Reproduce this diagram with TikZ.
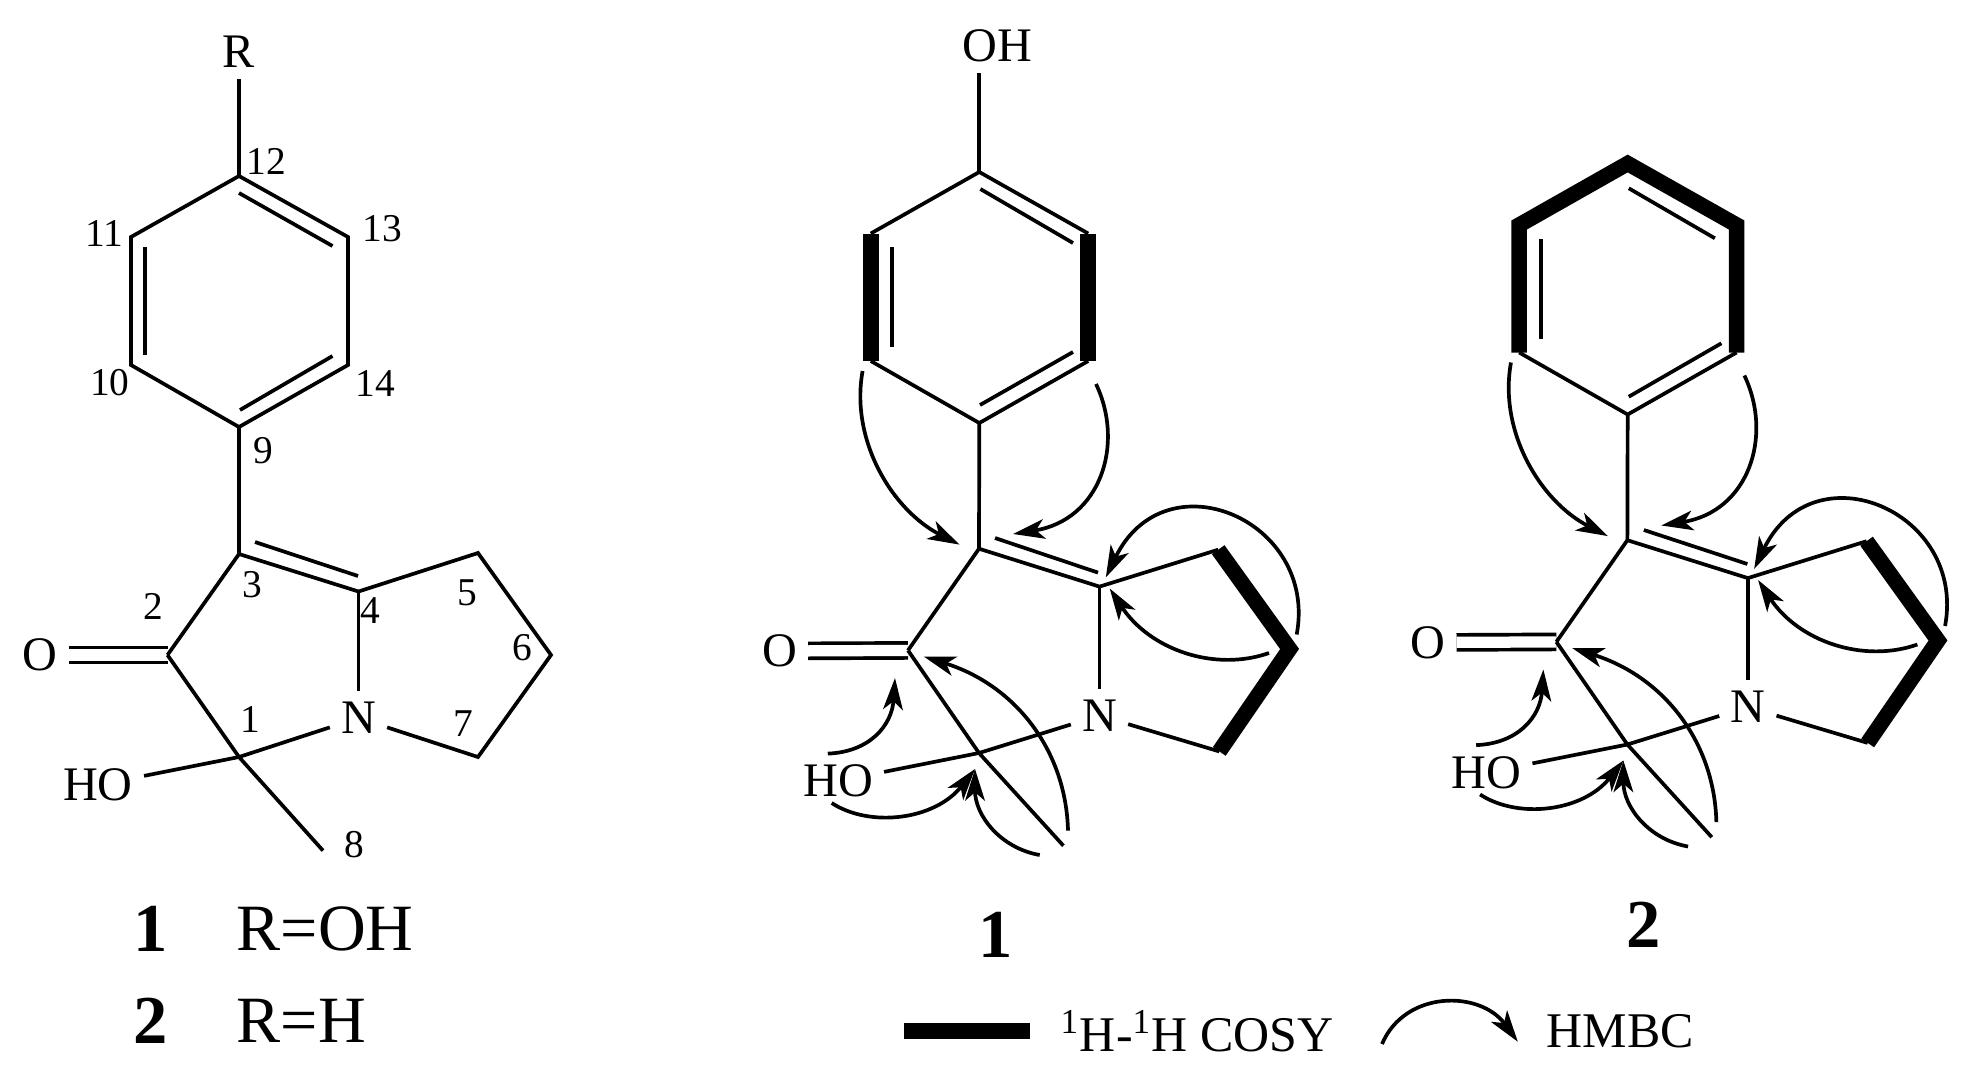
\documentclass[tikz,border=0pt]{standalone}
\usepackage{fontspec}
\setmainfont{Liberation Serif}
\usetikzlibrary{arrows.meta}
\tikzstyle{bond}=[line width=1.05pt]
\tikzstyle{carbonyl}=[line width=1.05pt,double,double distance=3.2pt]
\tikzstyle{cosy}=[line width=4.4pt,line join=miter]
\tikzstyle{hmbc}=[line width=1.05pt,-{Stealth[length=9pt,width=5.6pt,inset=2.4pt]}]
\tikzstyle{atom}=[font=\fontsize{13.7}{16}\selectfont,inner sep=3pt]
\tikzstyle{num}=[font=\fontsize{11.2}{13}\selectfont,inner sep=0pt]
\tikzstyle{big}=[font=\fontsize{18.8}{22}\selectfont,inner sep=0pt]
\tikzstyle{bignum}=[font=\fontsize{19.5}{22}\selectfont\bfseries,inner sep=0pt]
\tikzstyle{legend}=[font=\fontsize{14.2}{17}\selectfont,inner sep=0pt]

\begin{document}
\begin{tikzpicture}[x=0.01cm,y=-0.01cm]
\useasboundingbox (0,0) rectangle (1972,1078);
%numbered structure
\coordinate (C12) at (239,176);
\coordinate (C11) at (131,237);
\coordinate (C10) at (131,365);
\coordinate (C9) at (239,427);
\coordinate (C14) at (348,365);
\coordinate (C13) at (348,237);
\coordinate (C3) at (239,554);
\coordinate (C4) at (358.5,591.5);
\coordinate (C5) at (478,553);
\coordinate (C6) at (551,655);
\coordinate (C7) at (478,757);
\coordinate (C1) at (239,757);
\coordinate (C2) at (167.5,655);
\coordinate (C8) at (323,850.6);
\coordinate (D1a) at (239,193);
\coordinate (D1b) at (332.5,246);
\coordinate (D2a) at (145,247);
\coordinate (D2b) at (145,355);
\coordinate (D3a) at (332.5,356);
\coordinate (D3b) at (240,410);
\coordinate (D4a) at (255,542);
\coordinate (D4b) at (358,576);
\node[atom] (R) at (239,52) {R};
\node[atom] (N) at (358.5,718) {N};
\node[atom] (O) at (40,655) {O};
\node[atom] (HO) at (98,785) {HO};
\draw[carbonyl] (O)--(C2);
\draw[bond] (R)--(C12);
\draw[bond] (C12)--(C11)--(C10)--(C9)--(C14)--(C13)--cycle;
\draw[bond] (D1a)--(D1b);
\draw[bond] (D2a)--(D2b);
\draw[bond] (D3a)--(D3b);
\draw[bond] (C9)--(C3);
\draw[bond] (C2)--(C3)--(C4)--(C5)--(C6)--(C7)--(N);
\draw[bond] (D4a)--(D4b);
\draw[bond] (C4)--(N);
\draw[bond] (N)--(C1);
\draw[bond] (C2)--(C1)--(C8);
\draw[bond] (C1)--(HO);
\node[num] (n1) at (250,719) {1};
\node[num] (n2) at (153,606) {2};
\node[num] (n3) at (252.5,585) {3};
\node[num] (n4) at (370,611) {4};
\node[num] (n5) at (467,593) {5};
\node[num] (n6) at (522,648) {6};
\node[num] (n7) at (463,724) {7};
\node[num] (n8) at (354,845) {8};
\node[num] (n9) at (263,451) {9};
\node[num] (n10) at (110,383) {10};
\node[num] (n11) at (104,233) {11};
\node[num] (n12) at (266,161) {12};
\node[num] (n13) at (382,229) {13};
\node[num] (n14) at (375,383) {14};
\node[bignum] (one) at (151,929) {1};
\node[big,anchor=west] (Rone) at (236,929) {R=OH};
\node[bignum] (two) at (151,1021) {2};
\node[big,anchor=west] (Rtwo) at (236,1021) {R=H};
%compound 1
\begin{scope}
	\coordinate (C12) at (979.3,172);
	\coordinate (C11) at (870.8,233.5);
	\coordinate (C10) at (870.8,361);
	\coordinate (C9) at (979.3,423);
	\coordinate (C14) at (1088.2,361);
	\coordinate (C13) at (1088.2,233.5);
	\coordinate (C3) at (979,548.7);
	\coordinate (C4) at (1099.5,586.6);
	\coordinate (C5) at (1218.2,549.7);
	\coordinate (C6) at (1289.6,649);
	\coordinate (C7) at (1219.3,751.4);
	\coordinate (C1) at (979,753);
	\coordinate (C2) at (908,650.4);
	\coordinate (C8) at (1063.4,845.7);
	\coordinate (D1a) at (980.4,189);
	\coordinate (D1b) at (1073,243);
	\coordinate (D2a) at (892,247);
	\coordinate (D2b) at (892,347);
	\coordinate (D3a) at (1073,352);
	\coordinate (D3b) at (980,405);
	\coordinate (D4a) at (995,538);
	\coordinate (D4b) at (1098,572.6);
	\node[atom] (R) at (997,46) {OH};
	\node[atom] (N) at (1099.5,715.6) {N};
	\node[atom] (O) at (779.5,651) {O};
	\node[atom] (HO) at (838,781) {HO};
	\draw[carbonyl] (O)--(C2);
	\draw[bond] (C12|-R.south)--(C12);
	\draw[bond] (C11)--(C12)--(C13);
	\draw[bond] (C10)--(C9)--(C14);
	\draw[bond] (D1a)--(D1b);
	\draw[bond] (D2a)--(D2b);
	\draw[bond] (D3a)--(D3b);
	\draw[bond] (C9)--(C3);
	\draw[bond] (C2)--(C3)--(C4)--(C5);
	\draw[bond] (C7)--(N);
	\draw[bond] (D4a)--(D4b);
	\draw[bond] (C4)--(N);
	\draw[bond] (N)--(C1);
	\draw[bond] (C2)--(C1)--(C8);
	\draw[bond] (C1)--(HO);
	\draw[cosy] (C11)--(C10);
	\draw[cosy] (C13)--(C14);
	\draw[cosy] (C5)--(C6)--(C7);
	\coordinate (Sa) at (862.6,371);
	\coordinate (Ta) at (959.5,544.6);
	\coordinate (Sb) at (1096,384);
	\coordinate (Tb) at (1013,534);
	\coordinate (Sc) at (1296.7,634.5);
	\coordinate (Tc) at (1105.8,577.4);
	\coordinate (Sd) at (1269,653);
	\coordinate (Td) at (1109.7,588.5);
	\coordinate (Se) at (1068,830.6);
	\coordinate (Te) at (924,656.7);
	\coordinate (Sf) at (827.8,753.6);
	\coordinate (Tf) at (895,678);
	\coordinate (Sg) at (831.7,803);
	\coordinate (Tg) at (975,769);
	\coordinate (Sh) at (1039.7,855);
	\draw[hmbc] (Sa) .. controls (850,440) and (892,510) .. (Ta);
	\draw[hmbc] (Sb) .. controls (1125,445) and (1100,520) .. (Tb);
	\draw[hmbc] (Sc) .. controls (1318,520) and (1165,455) .. (Tc);
	\draw[hmbc] (Sd) .. controls (1215,672) and (1150,650) .. (Td);
	\draw[hmbc] (Se) .. controls (1066,750) and (1015,685) .. (Te);
	\draw[hmbc] (Sf) .. controls (870,752) and (892,725) .. (Tf);
	\draw[hmbc] (Sg) .. controls (870,828) and (935,820) .. (Tg);
	\draw[hmbc] (Sh) .. controls (1000,848) and (975,815) .. (Tg);
	\node[bignum] (one) at (996,935) {1};
\end{scope}
%compound 2
\begin{scope}[xshift=6.48cm,yshift=0.085cm]
	\coordinate (C12) at (979.3,172);
	\coordinate (C11) at (870.8,233.5);
	\coordinate (C10) at (870.8,361);
	\coordinate (C9) at (979.3,423);
	\coordinate (C14) at (1088.2,361);
	\coordinate (C13) at (1088.2,233.5);
	\coordinate (C3) at (979,548.7);
	\coordinate (C4) at (1099.5,586.6);
	\coordinate (C5) at (1218.2,549.7);
	\coordinate (C6) at (1289.6,649);
	\coordinate (C7) at (1219.3,751.4);
	\coordinate (C1) at (979,753);
	\coordinate (C2) at (908,650.4);
	\coordinate (C8) at (1063.4,845.7);
	\coordinate (D1a) at (980.4,196.8);
	\coordinate (D1b) at (1066.5,246.8);
	\coordinate (D2a) at (892.4,247.5);
	\coordinate (D2b) at (892.4,347.8);
	\coordinate (D3a) at (1073,351.8);
	\coordinate (D3b) at (980.4,405.2);
	\coordinate (D4a) at (995.5,538.5);
	\coordinate (D4b) at (1099,572.5);
	\node[atom] (N) at (1099.5,715.6) {N};
	\node[atom] (O) at (779.5,651) {O};
	\node[atom] (HO) at (838,781) {HO};
	\draw[carbonyl] (O)--(C2);
	\draw[bond] (C10)--(C9)--(C14);
	\draw[bond] (D1a)--(D1b);
	\draw[bond] (D2a)--(D2b);
	\draw[bond] (D3a)--(D3b);
	\draw[bond] (C9)--(C3);
	\draw[bond] (C2)--(C3)--(C4)--(C5);
	\draw[bond] (C7)--(N);
	\draw[bond] (D4a)--(D4b);
	\draw[bond] (C4)--(N);
	\draw[bond] (N)--(C1);
	\draw[bond] (C2)--(C1)--(C8);
	\draw[bond] (C1)--(HO);
	\draw[cosy] (C10)--(C11)--(C12)--(C13)--(C14);
	\draw[cosy] (C5)--(C6)--(C7);
	\coordinate (Sa) at (862.6,371);
	\coordinate (Ta) at (959.5,544.6);
	\coordinate (Sb) at (1096,384);
	\coordinate (Tb) at (1013,534);
	\coordinate (Sc) at (1296.7,634.5);
	\coordinate (Tc) at (1105.8,577.4);
	\coordinate (Sd) at (1269,653);
	\coordinate (Td) at (1109.7,588.5);
	\coordinate (Se) at (1068,830.6);
	\coordinate (Te) at (924,656.7);
	\coordinate (Sf) at (827.8,753.6);
	\coordinate (Tf) at (895,678);
	\coordinate (Sg) at (831.7,803);
	\coordinate (Tg) at (975,769);
	\coordinate (Sh) at (1039.7,855);
	\draw[hmbc] (Sa) .. controls (850,440) and (892,510) .. (Ta);
	\draw[hmbc] (Sb) .. controls (1125,445) and (1100,520) .. (Tb);
	\draw[hmbc] (Sc) .. controls (1318,520) and (1165,455) .. (Tc);
	\draw[hmbc] (Sd) .. controls (1215,672) and (1150,650) .. (Td);
	\draw[hmbc] (Se) .. controls (1066,750) and (1015,685) .. (Te);
	\draw[hmbc] (Sf) .. controls (870,752) and (892,725) .. (Tf);
	\draw[hmbc] (Sg) .. controls (870,828) and (935,820) .. (Tg);
	\draw[hmbc] (Sh) .. controls (1000,848) and (975,815) .. (Tg);
	\node[bignum] (two) at (995.5,933.5) {2};
\end{scope}
%legend
\coordinate (Ba) at (904,1031);
\coordinate (Bb) at (1030,1031);
\coordinate (Ca) at (1382,1044);
\coordinate (Cb) at (1517.8,1041.7);
\draw[cosy] (Ba)--(Bb);
\draw[hmbc] (Ca) .. controls (1405,990) and (1480,990) .. (Cb);
\node[legend,anchor=west] (cosytext) at (1060,1031) {\textsuperscript{1}H-\textsuperscript{1}H COSY};
\node[legend,anchor=west] (hmbctext) at (1546,1031) {HMBC};
\end{tikzpicture}
\end{document}
